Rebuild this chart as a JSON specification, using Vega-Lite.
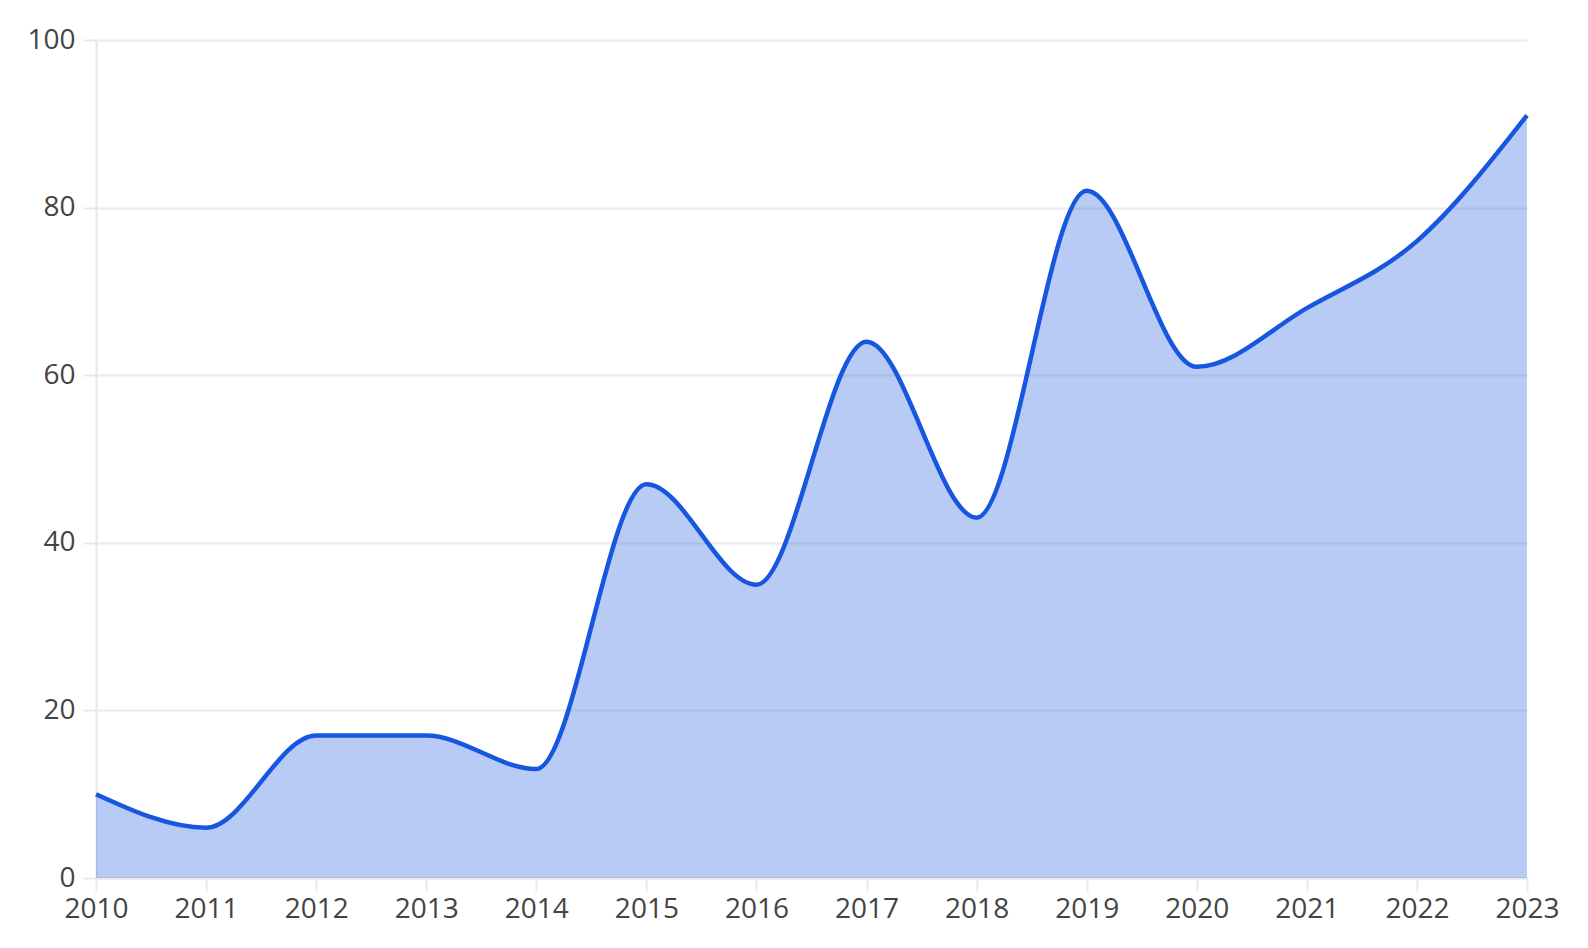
{
  "$schema": "https://vega.github.io/schema/vega-lite/v6.json",
  "width": 1431,
  "height": 838,
  "autosize": "none",
  "padding": {"left": 96, "top": 40, "right": 61, "bottom": 70},
  "background": "white",
  "config": {
    "view": {"stroke": null},
    "font": "Open Sans",
    "axis": {
      "labelFont": "Open Sans",
      "labelFontSize": 28,
      "labelColor": "#444444",
      "domainColor": "#e8e8e8",
      "domainWidth": 2,
      "tickColor": "#e8e8e8",
      "tickWidth": 2,
      "tickSize": 13,
      "gridColor": "#ebebeb",
      "gridWidth": 2,
      "title": null
    }
  },
  "data": {
    "values": [
      {"year": 2010, "value": 10},
      {"year": 2011, "value": 6},
      {"year": 2012, "value": 17},
      {"year": 2013, "value": 17},
      {"year": 2014, "value": 13},
      {"year": 2015, "value": 47},
      {"year": 2016, "value": 35},
      {"year": 2017, "value": 64},
      {"year": 2018, "value": 43},
      {"year": 2019, "value": 82},
      {"year": 2020, "value": 61},
      {"year": 2021, "value": 68},
      {"year": 2022, "value": 76},
      {"year": 2023, "value": 91}
    ]
  },
  "encoding": {
    "x": {
      "field": "year",
      "type": "quantitative",
      "scale": {"domain": [2010, 2023], "nice": false, "zero": false},
      "axis": {
        "values": [2010, 2011, 2012, 2013, 2014, 2015, 2016, 2017, 2018, 2019, 2020, 2021, 2022, 2023],
        "format": "d",
        "grid": false,
        "labelPadding": 4,
        "labelFlush": false,
        "labelOverlap": false
      }
    },
    "y": {
      "field": "value",
      "type": "quantitative",
      "scale": {"domain": [0, 100], "nice": false},
      "axis": {
        "values": [0, 20, 40, 60, 80, 100],
        "grid": true,
        "labelPadding": 8
      }
    }
  },
  "layer": [
    {
      "mark": {"type": "area", "interpolate": "monotone", "color": "#1a56e0", "opacity": 0.31}
    },
    {
      "mark": {"type": "line", "interpolate": "monotone", "color": "#1756e0", "strokeWidth": 4.5}
    }
  ]
}
